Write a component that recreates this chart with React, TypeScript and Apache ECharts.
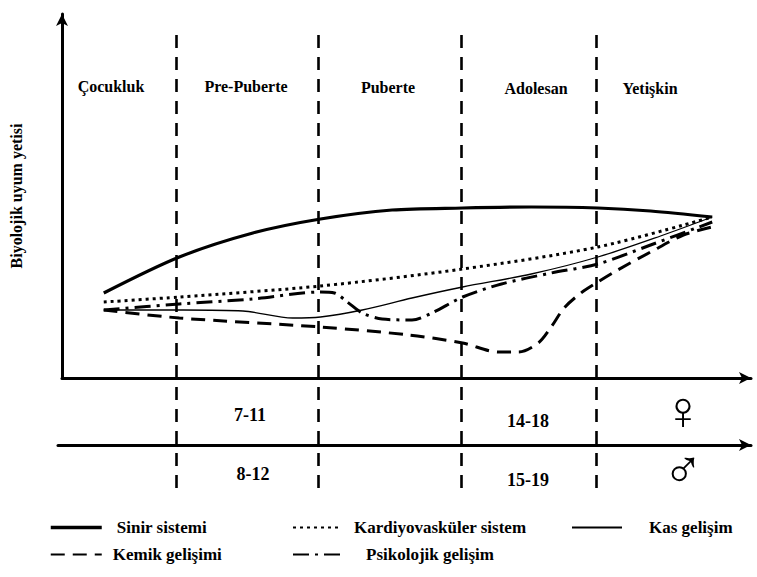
import React, { useEffect, useRef } from "react";
import * as echarts from "echarts";

// Values (x: horizontal position along the life span, y: biological adaptability)
const sinirSistemi = [[42, 85], [118, 121], [192, 145], [260, 159], [332, 168], [403, 170], [472, 171], [539, 170], [592, 167], [654, 161]];
const kardiyovaskuler = [[42, 76], [118, 81], [260, 92], [403, 109], [539, 131], [654, 161]];
const kasGelisim = [[42, 68], [122, 68], [182, 67], [232, 60], [260, 61], [302, 68], [352, 80], [403, 91], [472, 104], [539, 121], [602, 142], [654, 161]];
const kemikGelisimi = [[42, 68], [118, 60], [260, 51], [349, 43], [403, 35], [439, 26], [459, 26], [479, 35], [492, 51], [505, 70], [522, 85], [539, 96], [559, 108], [592, 126], [625, 143], [654, 151]];
const psikolojikGelisim = [[42, 68], [118, 74], [192, 79], [260, 86], [274, 85], [287, 76], [302, 65], [322, 59], [352, 58], [372, 65], [403, 81], [442, 94], [492, 105], [539, 114], [592, 133], [654, 156]];

const seriesNames = ["Sinir sistemi", "Kardiyovasküler sistem", "Kas gelişim", "Kemik gelişimi", "Psikolojik gelişim"];
const phaseBoundaries = [118, 260, 403, 538];
const phaseLabels = ["Çocukluk", "Pre-Puberte", "Puberte", "Adolesan", "Yetişkin"];
const femaleAges = ["7-11", "14-18"];
const maleAges = ["8-12", "15-19"];
const yAxisTitle = "Biyolojik uyum yetisi";

const SERIF = "Times New Roman";

export default function App() {
  const ref = useRef<HTMLDivElement>(null);

  useEffect(() => {
    const chart = echarts.init(ref.current!, null, { renderer: "svg" });

    const axisLineStyle = { color: "#000", width: 3 };
    const hidden = { axisTick: { show: false }, axisLabel: { show: false }, splitLine: { show: false } };

    const lineStyles: any[] = [
      { color: "#000", width: 3.2, type: "solid" },
      { color: "#000", width: 3, type: [3, 4], cap: "butt" },
      { color: "#000", width: 1.3, type: "solid" },
      { color: "#000", width: 3, type: [14, 8] },
      { color: "#000", width: 3, type: [16, 6, 3, 6] },
    ];
    const datasets = [sinirSistemi, kardiyovaskuler, kasGelisim, kemikGelisimi, psikolojikGelisim];

    const phaseX = [111, 246, 388, 536, 650];
    const phaseY = [86, 86, 87, 88, 88];
    const femaleX = [250, 528];
    const femaleY = [415, 421];
    const maleX = [253, 528];
    const maleY = [474, 480];

    const textEl = (t: string, x: number, y: number, font: string) => ({
      type: "text",
      x,
      y,
      silent: true,
      style: {
        text: t,
        fill: "#000",
        font,
        textAlign: "center",
        textVerticalAlign: "middle",
        align: "center",
        verticalAlign: "middle",
      },
    });

    const legendText = { fontFamily: SERIF, fontWeight: "bold", fontSize: 17, color: "#000" };
    const legendCommon = {
      top: 514,
      orient: "vertical",
      itemHeight: 14,
      itemGap: 10,
      selectedMode: false,
      textStyle: legendText,
      itemStyle: { opacity: 0, color: "transparent", borderWidth: 0 },
    };

    const option: any = {
      animation: false,
      backgroundColor: "#fff",
      textStyle: { fontFamily: SERIF },
      grid: [
        { left: 58, top: 14, width: 693, height: 364 },
        { left: 58, top: 32, width: 693, height: 456 },
      ],
      xAxis: [
        {
          type: "value",
          gridIndex: 0,
          min: 0,
          max: 693,
          axisLine: { show: true, lineStyle: axisLineStyle, symbol: ["none", "arrow"], symbolSize: [9, 12] },
          ...hidden,
        },
        {
          type: "value",
          gridIndex: 1,
          min: 0,
          max: 693,
          axisLine: { show: true, onZero: true, lineStyle: axisLineStyle, symbol: ["none", "arrow"], symbolSize: [9, 12] },
          ...hidden,
        },
      ],
      yAxis: [
        {
          type: "value",
          gridIndex: 0,
          min: 0,
          max: 364,
          name: yAxisTitle,
          nameLocation: "middle",
          nameGap: 38,
          nameRotate: 90,
          nameTextStyle: { fontFamily: SERIF, fontWeight: "bold", fontSize: 16, color: "#000" },
          axisLine: { show: true, lineStyle: axisLineStyle, symbol: ["none", "arrow"], symbolSize: [9, 12] },
          ...hidden,
        },
        {
          type: "value",
          gridIndex: 1,
          min: -43,
          max: 413,
          axisLine: { show: false },
          ...hidden,
        },
      ],
      legend: [
        {
          ...legendCommon,
          left: 44,
          itemWidth: 51,
          data: [
            { name: seriesNames[0], textStyle: { padding: [0, 0, 0, 10] }, lineStyle: { width: 3.5 } },
            { name: seriesNames[3], textStyle: { padding: [0, 0, 0, 6] } },
          ],
        },
        {
          ...legendCommon,
          left: 287,
          itemWidth: 48,
          data: [
            { name: seriesNames[1], textStyle: { padding: [0, 0, 0, 8] } },
            { name: seriesNames[4], textStyle: { padding: [0, 0, 0, 20] } },
          ],
        },
        {
          ...legendCommon,
          left: 566,
          itemWidth: 50,
          data: [{ name: seriesNames[2], textStyle: { padding: [0, 0, 0, 22] }, lineStyle: { width: 2 } }],
        },
      ],
      series: [
        ...datasets.map((d, i) => ({
          name: seriesNames[i],
          type: "line",
          xAxisIndex: 0,
          yAxisIndex: 0,
          data: d,
          smooth: 0.3,
          symbol: "none",
          lineStyle: lineStyles[i],
          itemStyle: { color: "#000" },
          silent: true,
        })),
        {
          name: "phases",
          type: "line",
          xAxisIndex: 1,
          yAxisIndex: 1,
          data: [],
          symbol: "none",
          silent: true,
          markLine: {
            silent: true,
            symbol: ["none", "none"],
            label: { show: false },
            lineStyle: { color: "#000", width: 2.6, type: [13, 9] },
            data: phaseBoundaries.map((v) => ({ xAxis: v })),
          },
        },
      ],
      graphic: [
        ...phaseLabels.map((t, i) => textEl(t, phaseX[i], phaseY[i], `bold 16px ${SERIF}`)),
        ...femaleAges.map((t, i) => textEl(t, femaleX[i], femaleY[i], `bold 18px ${SERIF}`)),
        ...maleAges.map((t, i) => textEl(t, maleX[i], maleY[i], `bold 18px ${SERIF}`)),
        textEl("♀", 683, 411, `normal 54px ${SERIF}`),
        textEl("♂", 683, 470, `normal 54px ${SERIF}`),
      ],
    };

    chart.setOption(option);
    return () => chart.dispose();
  }, []);

  return (
    <div
      ref={ref}
      style={{ position: "absolute", left: 0, top: 0, width: 757, height: 577, background: "#fff" }}
    />
  );
}
